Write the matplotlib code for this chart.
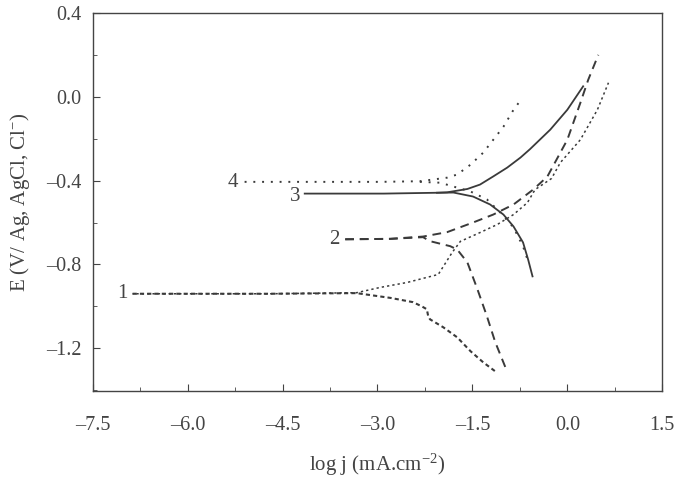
import matplotlib
matplotlib.use('Agg')
import matplotlib.pyplot as plt
from matplotlib.ticker import MultipleLocator, FuncFormatter

plt.rcParams['font.family'] = ['Liberation Serif', 'DejaVu Serif']
plt.rcParams['mathtext.fontset'] = 'custom'
plt.rcParams['mathtext.rm'] = 'Liberation Serif'
plt.rcParams['mathtext.it'] = 'Liberation Serif:italic'

# curve 1
c1_cath_x = [-6.87, -4.7, -3.33, -2.79, -2.44, -2.30, -2.22, -2.20, -2.17, -1.96, -1.74, -1.53, -1.33, -1.14]
c1_cath_y = [-0.94, -0.94, -0.937, -0.96, -0.98, -1.0, -1.014, -1.045, -1.062, -1.10, -1.148, -1.214, -1.267, -1.31]
c1_an_x = [-6.87, -4.7, -3.33, -2.96, -2.53, -2.04, -1.96, -1.82, -1.69, -1.38, -1.11, -0.85,
           -0.63, -0.51, -0.25, -0.11, 0.206, 0.475, 0.65]
c1_an_y = [-0.94, -0.94, -0.935, -0.91, -0.886, -0.848, -0.81, -0.743, -0.69, -0.648, -0.61, -0.562,
           -0.505, -0.443, -0.39, -0.314, -0.205, -0.062, 0.067]

# curve 2
c2_cath_x = [-3.51, -2.8, -2.28, -2.17, -1.85, -1.74, -1.58, -1.42, -1.27, -1.14, -0.98]
c2_cath_y = [-0.68, -0.678, -0.67, -0.689, -0.713, -0.729, -0.79, -0.919, -1.048, -1.17, -1.29]
c2_an_x = [-3.51, -2.8, -2.28, -1.90, -1.49, -1.17, -0.85, -0.54, -0.316, 0.0, 0.206, 0.33, 0.49]
c2_an_y = [-0.68, -0.678, -0.667, -0.646, -0.60, -0.562, -0.514, -0.443, -0.381, -0.205, -0.029, 0.081, 0.2]

# curve 3
c3_an_x = [-4.15, -2.9, -2.06, -1.90, -1.58, -1.38, -1.17, -0.95, -0.74, -0.59, -0.27, 0.0, 0.25]
c3_an_y = [-0.462, -0.462, -0.458, -0.456, -0.44, -0.419, -0.38, -0.338, -0.29, -0.25, -0.157, -0.062, 0.05]
c3_cath_x = [-2.06, -1.80, -1.49, -1.22, -1.01, -0.85, -0.70, -0.62, -0.55]
c3_cath_y = [-0.458, -0.457, -0.476, -0.514, -0.562, -0.619, -0.695, -0.776, -0.857]

# curve 4
c4_an_x = [-5.1, -2.96, -2.33, -1.90, -1.74, -1.53, -1.33, -1.01, -0.85, -0.71]
c4_an_y = [-0.406, -0.406, -0.403, -0.386, -0.371, -0.324, -0.267, -0.143, -0.062, -0.005]
c4_cath_x = [-2.33, -2.01, -1.53, -1.27, -1.06, -0.85, -0.70, -0.63]
c4_cath_y = [-0.406, -0.41, -0.452, -0.49, -0.552, -0.624, -0.714, -0.776]

labels = ['1', '2', '3', '4']
label_x = [-6.95, -3.6, -4.22, -5.2]
label_y = [-0.94, -0.68, -0.475, -0.41]

col = '#3a3a3a'
txt = '#444444'
fig = plt.figure(figsize=(6.92, 4.8), dpi=100)
ax = fig.add_axes([0.134, 0.185, 0.823, 0.788])

ax.plot(c1_cath_x, c1_cath_y, color=col, lw=1.5, ls=(0, (2, 1.5)))
ax.plot(c1_an_x, c1_an_y, color=col, lw=1.1, ls=(1, (1.5, 2)))
ax.plot(c2_cath_x, c2_cath_y, color=col, lw=1.4, ls=(0, (4.5, 3)))
ax.plot(c2_an_x, c2_an_y, color=col, lw=1.4, ls=(0, (4.5, 3)))
ax.plot(c3_an_x, c3_an_y, color=col, lw=1.3, ls='-')
ax.plot(c3_cath_x, c3_cath_y, color=col, lw=1.3, ls='-')
ax.plot(c4_an_x, c4_an_y, color=col, lw=1.4, ls=(0, (1, 3.5)))
ax.plot(c4_cath_x, c4_cath_y, color=col, lw=1.4, ls=(0, (1, 3.5)))

for t, x, y in zip(labels, label_x, label_y):
    ax.text(x, y, t, ha='right', va='center', fontsize=15, color=txt)

ax.set_xlim(-7.5, 1.5)
ax.set_ylim(-1.405, 0.4)
ax.xaxis.set_major_locator(MultipleLocator(1.5))
ax.xaxis.set_minor_locator(MultipleLocator(0.75))
ax.yaxis.set_major_locator(MultipleLocator(0.4))
ax.yaxis.set_minor_locator(MultipleLocator(0.2))
fmt = FuncFormatter(lambda v, p: ('%.1f' % v).replace('-', '\u2013') if abs(v) > 1e-9 else '0.0')
ax.xaxis.set_major_formatter(fmt)
ax.yaxis.set_major_formatter(fmt)
ax.tick_params(which='both', direction='in', top=False, right=False,
               labelsize=14.5, colors=txt)
ax.tick_params(axis='x', pad=18)
ax.tick_params(axis='y', pad=8)
ax.tick_params(which='major', length=5)
ax.tick_params(which='minor', length=3)
for s in ax.spines.values():
    s.set_color(txt)
    s.set_linewidth(1.0)

ax.set_xlabel('log j (mA.cm$^{-2}$)', fontsize=15, color=txt, labelpad=12)
ax.set_ylabel('E (V/ Ag, AgCl, Cl$^{-}$)', fontsize=15, color=txt, labelpad=10)

fig.savefig('out.png', dpi=100)
